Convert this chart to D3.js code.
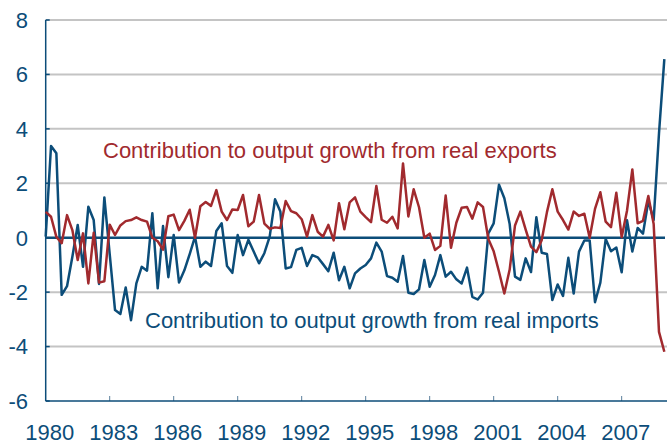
<!DOCTYPE html>
<html>
<head>
<meta charset="utf-8">
<script src="https://cdn.jsdelivr.net/npm/d3@7"></script>
<style>
    body { margin: 0; background: #fff; }
    svg { display: block; font-family: "Liberation Sans", Arial, sans-serif; }
</style>
</head>
<body>
<svg id="chart"></svg>
<script>
// quarterly contributions to real GDP growth, 1980Q1 - 2009Q1 (percentage points)
let startYear = 1980;
let exportsData = [
    0.95, 0.77, 0.03, -0.2, 0.83, 0.28, -0.82, 0.16, -1.68, 0.18,
    -1.65, -1.6, 0.48, 0.1, 0.45, 0.61, 0.65, 0.75, 0.65, 0.59,
    0.0, -0.13, -0.44, 0.79, 0.85, 0.28, 0.62, 1.03, 0.0, 1.16,
    1.31, 1.17, 1.75, 0.96, 0.65, 1.04, 1.02, 1.57, 0.42, 0.59,
    1.57, 0.52, 0.33, 0.38, 0.36, 1.35, 0.98, 0.9, 0.68, 0.04,
    0.83, 0.22, 0.04, 0.47, -0.1, 1.27, 0.31, 1.3, 1.48, 0.96,
    0.76, 0.57, 1.9, 0.66, 0.55, 0.77, 0.34, 2.73, 0.78, 1.78,
    1.12, 0.0, 0.15, -0.45, -0.3, 1.55, -0.37, 0.55, 1.1, 1.13,
    0.7, 1.3, 1.13, -0.05, -0.5, -1.25, -2.05, -1.17, 0.45, 0.96,
    0.3, -0.33, -0.53, -0.09, 0.95, 1.78, 0.96, 0.65, 0.3, 0.96,
    0.8, 0.88, 0.0, 1.06, 1.67, 0.59, 0.39, 1.65, 0.02, 0.99,
    2.51, 0.53, 0.62, 1.53, 0.5, -3.46, -4.19
];
let importsData = [
    0.04, 3.37, 3.1, -2.1, -1.78, -0.7, 0.47, -1.07, 1.14, 0.65,
    -1.7, 1.48, -0.6, -2.66, -2.8, -1.83, -3.03, -1.68, -1.07, -1.21,
    0.9, -1.86, 0.43, -1.45, 0.1, -1.65, -1.2, -0.6, 0.04, -1.07,
    -0.88, -1.04, 0.25, 0.53, -1.04, -1.29, 0.1, -0.64, -0.08, -0.51,
    -0.94, -0.57, 0.04, 1.41, 0.96, -1.13, -1.08, -0.45, -0.37, -1.04,
    -0.64, -0.72, -0.97, -1.23, -0.55, -1.56, -1.07, -1.86, -1.31, -1.13,
    -1.0, -0.76, -0.18, -0.51, -1.41, -1.47, -1.62, -0.67, -2.02, -2.07,
    -1.9, -0.82, -1.8, -1.37, -0.64, -1.43, -1.25, -1.53, -1.68, -1.1,
    -2.17, -2.27, -2.02, 0.16, 0.53, 1.95, 1.45, 0.5, -1.43, -1.55,
    -0.76, -1.26, 0.75, -0.55, -0.6, -2.29, -1.72, -2.14, -0.74, -2.05,
    -0.51, -0.1, -0.1, -2.37, -1.65, -0.05, -0.5, -0.36, -1.27, 0.64,
    -0.51, 0.36, 0.15, 1.35, 0.65, 3.84, 6.56
];
let yTicks = [-6, -4, -2, 0, 2, 4, 6, 8];
let xTicks = [1980, 1983, 1986, 1989, 1992, 1995, 1998, 2001, 2004, 2007];
let exportsLabel = 'Contribution to output growth from real exports';
let importsLabel = 'Contribution to output growth from real imports';

let blue = '#0c4d79';
let red = '#a12a2e';

let width = 670;
let height = 442;
let margin = {top: 20, right: 3, bottom: 41, left: 45.7};

let svg = d3.select('#chart')
    .attr('width', width)
    .attr('height', height);

let xScale = d3.scaleLinear()
    .domain([startYear, 2009.125])
    .range([margin.left, width - margin.right]);

let yScale = d3.scaleLinear()
    .domain([-6, 8])
    .range([height - margin.bottom, margin.top]);

function toSeries(values) {
    return values.map(function (v, i) {
        return {t: startYear + i / 4, v: v};
    });
}

// grid lines
svg.append('g')
    .selectAll('line')
    .data(yTicks.filter(function (d) { return d !== 0 && d !== -6; }))
    .enter()
    .append('line')
    .attr('x1', margin.left)
    .attr('x2', width - margin.right)
    .attr('y1', function (d) { return yScale(d); })
    .attr('y2', function (d) { return yScale(d); })
    .attr('stroke', '#c4c4c4')
    .attr('stroke-width', 2);

// small inner ticks on the y axis
svg.append('g')
    .selectAll('line')
    .data(yTicks)
    .enter()
    .append('line')
    .attr('x1', margin.left)
    .attr('x2', margin.left + 4)
    .attr('y1', function (d) { return yScale(d); })
    .attr('y2', function (d) { return yScale(d); })
    .attr('stroke', blue)
    .attr('stroke-width', 1.5);

// y tick labels
svg.append('g')
    .selectAll('text')
    .data(yTicks)
    .enter()
    .append('text')
    .attr('x', 28)
    .attr('y', function (d) { return yScale(d); })
    .attr('dy', '0.36em')
    .attr('text-anchor', 'end')
    .attr('font-size', 22)
    .attr('fill', blue)
    .text(function (d) { return d; });

// x ticks pointing up from the bottom axis
svg.append('g')
    .selectAll('line')
    .data(xTicks.slice(1))
    .enter()
    .append('line')
    .attr('x1', function (d) { return xScale(d); })
    .attr('x2', function (d) { return xScale(d); })
    .attr('y1', yScale(-6))
    .attr('y2', yScale(-6) - 5)
    .attr('stroke', '#5b7f9c')
    .attr('stroke-width', 1);

svg.append('g')
    .selectAll('text')
    .data(xTicks)
    .enter()
    .append('text')
    .attr('x', function (d) { return xScale(d) + 4; })
    .attr('y', 440)
    .attr('text-anchor', 'middle')
    .attr('font-size', 22)
    .attr('fill', blue)
    .text(function (d) { return d; });

// axis lines
svg.append('line')
    .attr('x1', margin.left)
    .attr('x2', margin.left)
    .attr('y1', yScale(8))
    .attr('y2', yScale(-6))
    .attr('stroke', blue)
    .attr('stroke-width', 1.5);

svg.append('line')
    .attr('x1', margin.left)
    .attr('x2', width - margin.right)
    .attr('y1', yScale(-6))
    .attr('y2', yScale(-6))
    .attr('stroke', blue)
    .attr('stroke-width', 1.5);

// zero line
svg.append('line')
    .attr('x1', margin.left)
    .attr('x2', width - 5)
    .attr('y1', yScale(0))
    .attr('y2', yScale(0))
    .attr('stroke', blue)
    .attr('stroke-width', 2.5);

let line = d3.line()
    .x(function (d) { return xScale(d.t); })
    .y(function (d) { return yScale(d.v); });

svg.append('path')
    .datum(toSeries(importsData))
    .attr('d', line)
    .attr('fill', 'none')
    .attr('stroke', blue)
    .attr('stroke-width', 2.5)
    .attr('stroke-linejoin', 'round');

svg.append('path')
    .datum(toSeries(exportsData))
    .attr('d', line)
    .attr('fill', 'none')
    .attr('stroke', red)
    .attr('stroke-width', 2.5)
    .attr('stroke-linejoin', 'round');

// series labels
svg.append('text')
    .attr('x', 103)
    .attr('y', 158)
    .attr('font-size', 22)
    .attr('fill', red)
    .text(exportsLabel);

svg.append('text')
    .attr('x', 145)
    .attr('y', 328)
    .attr('font-size', 22)
    .attr('fill', blue)
    .text(importsLabel);
</script>
</body>
</html>
